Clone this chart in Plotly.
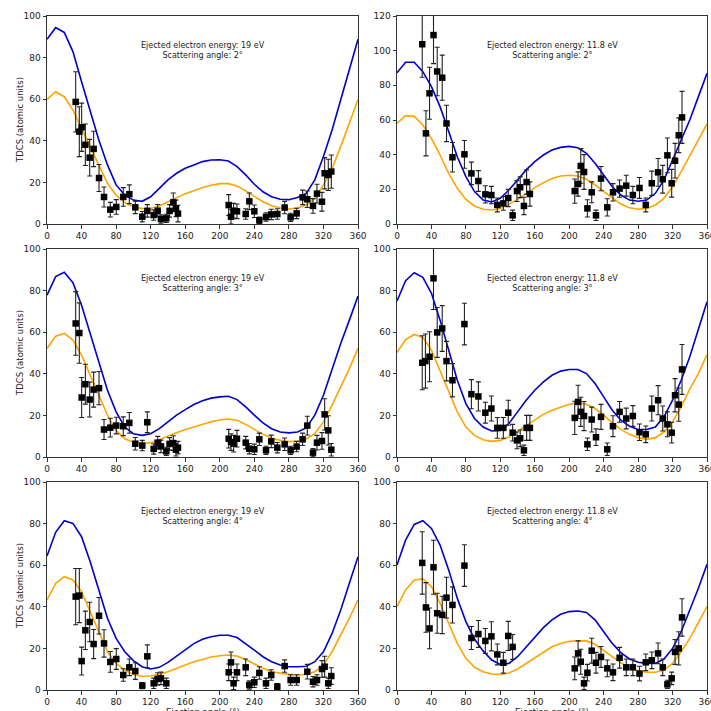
import plotly.graph_objects as go

# ---------------- data ----------------
theory_angles = [0, 10, 20, 30, 40, 50, 60, 70, 80, 90, 100, 110, 120, 130, 140, 150, 160, 170, 180,
                 190, 200, 210, 220, 230, 240, 250, 260, 270, 280, 290, 300, 310, 320, 330, 340, 350, 360]

# Panel 1: 19 eV, 2 deg
p1_x = [33.2, 37.4, 40.1, 44.4, 49.4, 54.0, 60.2, 66.0, 73.3, 80.2, 88.3, 95.3, 102.2, 110.3, 116.1, 123.5,
        128.1, 131.9, 138.1, 141.9, 146.2, 149.3, 151.6, 210.3, 213.0, 216.0, 219.9, 230.0, 234.2, 240.0,
        245.8, 253.5, 259.6, 266.6, 275.1, 282.0, 289.0, 295.9, 301.3, 307.9, 312.5, 318.3, 321.4, 325.6, 329.1]
p1_y = [58.7, 44.4, 46.5, 38.1, 31.9, 36.1, 22.1, 13.0, 6.9, 8.2, 13.0, 14.3, 8.0, 3.5, 6.3, 4.3,
        6.4, 2.4, 2.7, 6.3, 10.4, 7.5, 5.0, 9.1, 3.5, 6.4, 6.1, 4.8, 10.9, 6.1,
        1.8, 3.4, 4.6, 4.8, 7.9, 3.2, 5.1, 12.8, 11.9, 8.7, 14.6, 10.7, 24.4, 23.6, 25.2]
p1_e = [14.5, 12.0, 11.6, 10.0, 8.8, 8.5, 6.5, 4.8, 3.5, 3.5, 4.5, 4.5, 3.0, 2.5, 3.0, 2.5,
        3.0, 2.0, 2.0, 3.0, 4.5, 4.0, 4.0, 5.0, 3.5, 3.5, 3.5, 2.5, 4.0, 3.0,
        1.5, 2.0, 2.5, 2.5, 3.0, 2.0, 2.5, 3.5, 4.0, 3.5, 4.5, 4.5, 7.5, 7.5, 8.0]
p1_blue = [88.8, 94.4, 92.1, 82.9, 68.4, 54.8, 40.4, 28.4, 18.8, 13.9, 11.5, 10.9, 13.1, 17.1, 21.2, 24.4,
           26.8, 28.4, 30.0, 30.8, 30.9, 30.3, 27.6, 23.6, 19.1, 15.5, 13.1, 11.9, 11.7, 12.7, 14.7,
           21.2, 32.4, 45.2, 59.6, 74.8, 88.8]
p1_orange = [59.9, 63.6, 61.2, 54.8, 46.0, 37.2, 27.6, 19.6, 13.9, 10.3, 8.3, 7.4, 7.5, 8.7, 10.7, 12.8,
             14.6, 16.0, 17.5, 18.6, 19.4, 19.4, 18.3, 15.9, 13.1, 10.7, 8.8, 7.7, 7.2, 7.7, 9.1,
             12.3, 18.8, 26.8, 37.2, 48.4, 59.9]

# Panel 2: 11.8 eV, 2 deg
p2_x = [29.3, 33.6, 37.8, 42.4, 46.7, 52.5, 57.5, 64.4, 78.3, 86.4, 94.5, 102.6, 109.6, 116.5, 123.5, 129.2,
        134.3, 139.3, 143.1, 147.4, 150.5, 154.3, 206.4, 210.3, 213.4, 217.2, 221.1, 226.1, 231.1, 236.9,
        244.2, 250.8, 258.5, 266.2, 273.9, 281.6, 288.9, 295.9, 303.2, 308.6, 314.0, 319.0, 322.9, 327.2, 331.0]
p2_y = [103.7, 52.3, 75.4, 109.0, 88.0, 84.4, 58.0, 38.5, 40.2, 29.2, 24.8, 17.1, 16.7, 11.0, 11.9, 15.0,
        5.0, 19.0, 21.2, 10.4, 24.2, 17.3, 19.0, 23.1, 33.5, 30.0, 9.0, 18.3, 5.0, 26.2,
        9.6, 18.3, 20.4, 22.1, 16.7, 20.8, 11.0, 23.5, 29.8, 25.8, 39.6, 23.5, 36.5, 51.2, 61.5]
p2_e = [19.0, 13.0, 15.0, 16.5, 14.0, 13.0, 10.5, 8.5, 8.0, 6.5, 6.0, 5.0, 5.0, 4.0, 4.0, 5.0,
        3.0, 6.0, 6.0, 5.0, 7.0, 7.0, 7.0, 7.0, 10.0, 10.0, 5.0, 6.0, 3.0, 7.0,
        5.0, 5.0, 5.0, 6.0, 5.0, 6.0, 4.0, 7.0, 8.0, 8.0, 10.0, 8.0, 10.0, 10.0, 15.0]
p2_blue = [87.3, 93.3, 93.3, 87.9, 79.2, 67.7, 53.3, 38.8, 27.3, 18.7, 13.8, 12.7, 14.8, 19.6, 25.4, 31.2,
           36.0, 39.8, 42.7, 44.2, 44.8, 44.0, 40.8, 35.0, 28.3, 21.5, 16.7, 13.8, 13.1, 13.8, 17.7,
           25.4, 36.9, 48.5, 60.0, 73.5, 86.9]
p2_orange = [58.1, 62.5, 62.1, 57.1, 49.4, 39.8, 29.2, 20.6, 14.2, 10.4, 8.5, 8.1, 9.0, 11.3, 14.2, 17.7,
             21.0, 23.8, 26.3, 27.7, 28.1, 27.7, 25.8, 22.5, 18.7, 14.8, 11.5, 9.4, 8.5, 9.0, 11.0,
             14.8, 21.5, 30.2, 39.8, 48.5, 57.7]

# Panel 3: 19 eV, 3 deg
p3_x = [33.2, 37.4, 40.1, 44.4, 49.4, 54.0, 60.2, 66.0, 73.3, 80.2, 88.3, 95.3, 102.2, 110.3, 116.1, 123.5,
        128.1, 131.9, 138.1, 141.9, 146.2, 149.3, 151.6, 210.3, 213.0, 216.0, 219.9, 230.0, 234.2, 240.0,
        245.8, 253.5, 259.6, 266.6, 275.1, 282.0, 289.0, 295.9, 301.3, 307.9, 312.5, 318.3, 321.4, 325.6, 329.1]
p3_y = [64.2, 59.6, 28.6, 35.0, 27.6, 32.4, 33.1, 13.2, 14.1, 15.1, 14.8, 16.4, 6.4, 5.5, 16.7, 3.9,
        6.9, 5.1, 2.7, 6.3, 6.7, 3.5, 4.5, 8.8, 7.2, 6.4, 8.8, 6.9, 4.0, 3.7,
        8.5, 3.2, 7.5, 4.5, 6.1, 3.2, 5.0, 8.5, 15.1, 2.1, 6.9, 7.7, 20.5, 12.8, 3.5]
p3_e = [15.3, 14.5, 9.6, 9.6, 8.4, 8.4, 8.0, 4.8, 4.5, 4.0, 4.5, 5.0, 3.0, 2.5, 5.0, 2.5,
        3.0, 3.0, 2.0, 3.0, 3.5, 3.0, 3.0, 4.5, 4.0, 4.0, 4.0, 3.0, 2.5, 2.5,
        3.0, 2.0, 3.0, 2.5, 3.0, 2.0, 2.5, 3.0, 4.5, 2.0, 3.5, 4.0, 7.5, 7.0, 3.0]
p3_blue = [77.8, 86.7, 88.8, 83.8, 73.0, 59.4, 44.9, 32.1, 21.7, 14.4, 11.2, 10.4, 11.2, 13.6, 16.9, 20.1,
           22.8, 25.2, 27.0, 28.3, 28.9, 29.2, 27.6, 24.1, 20.1, 16.4, 13.6, 12.0, 11.6, 12.0, 14.0,
           20.1, 29.7, 42.5, 54.6, 65.8, 77.4]
p3_orange = [52.2, 58.1, 59.4, 56.2, 49.0, 39.3, 28.9, 20.1, 12.8, 8.8, 7.1, 6.4, 6.9, 8.3, 10.1, 11.7,
             13.2, 14.4, 15.7, 16.9, 17.8, 18.3, 17.7, 15.7, 13.3, 10.9, 9.1, 8.0, 7.4, 7.5, 8.7,
             11.2, 16.9, 24.9, 33.7, 42.5, 52.2]

# Panel 4: 11.8 eV, 3 deg
p4_x = [29.3, 33.0, 37.8, 42.4, 46.7, 52.5, 57.5, 64.4, 78.3, 86.4, 94.5, 102.6, 109.6, 116.5, 123.5, 129.2,
        134.3, 139.3, 143.1, 147.4, 150.5, 154.3, 206.4, 210.3, 213.4, 217.2, 221.1, 226.1, 231.1, 236.9,
        244.2, 250.8, 258.5, 266.2, 273.9, 281.6, 288.9, 295.9, 303.2, 308.6, 314.0, 319.0, 322.9, 327.2, 331.0]
p4_y = [45.3, 46.1, 48.2, 85.9, 59.9, 61.8, 46.1, 36.9, 63.9, 30.2, 29.1, 21.3, 23.3, 14.0, 14.0, 21.3,
        11.7, 8.0, 9.0, 3.2, 14.0, 14.0, 18.8, 26.5, 21.7, 19.7, 6.1, 18.0, 9.5, 19.3,
        3.7, 14.8, 21.7, 18.5, 19.7, 11.9, 10.9, 23.3, 27.3, 18.5, 15.7, 11.7, 29.7, 25.2, 42.1]
p4_e = [13.0, 13.0, 12.0, 15.0, 12.0, 11.0, 9.5, 8.0, 10.0, 7.0, 7.0, 5.0, 6.0, 5.0, 5.0, 6.0,
        4.0, 4.0, 4.0, 2.5, 6.0, 6.0, 8.0, 8.0, 7.0, 7.0, 3.0, 6.0, 4.0, 6.0,
        3.0, 5.0, 5.0, 5.0, 5.0, 4.0, 4.0, 6.0, 7.0, 6.0, 6.0, 5.0, 8.0, 8.0, 12.0]
p4_blue = [75.0, 84.8, 88.6, 86.4, 78.7, 65.8, 51.4, 36.9, 25.7, 18.5, 14.4, 12.5, 12.8, 16.1, 21.7, 27.3,
           32.1, 36.1, 39.3, 41.3, 42.1, 42.1, 40.1, 35.3, 28.9, 22.5, 17.7, 14.8, 13.2, 13.2, 14.4,
           19.3, 27.3, 36.9, 48.2, 61.0, 74.6]
p4_orange = [50.2, 56.5, 58.9, 57.5, 51.4, 41.7, 31.3, 21.7, 14.4, 10.4, 8.3, 7.5, 8.0, 9.6, 12.4, 15.2,
             18.0, 20.5, 22.5, 24.1, 25.4, 26.0, 25.4, 23.3, 20.1, 16.4, 13.3, 10.9, 9.3, 8.5, 9.3,
             12.0, 16.9, 24.1, 32.6, 40.1, 49.2]

# Panel 5: 19 eV, 4 deg
p5_x = [33.2, 37.4, 40.1, 44.4, 49.4, 54.0, 60.2, 66.0, 73.3, 80.2, 88.3, 95.3, 102.2, 110.3, 116.1, 123.5,
        128.1, 131.9, 138.1, 210.3, 213.0, 216.0, 219.9, 230.0, 234.2, 240.0, 245.8, 253.5, 259.6, 266.6,
        275.1, 282.0, 289.0, 301.3, 307.9, 312.5, 318.3, 321.4, 325.6, 329.1]
p5_y = [44.9, 45.4, 13.9, 28.7, 32.7, 22.1, 35.7, 22.4, 13.5, 14.9, 7.2, 10.9, 9.1, 2.1, 16.2, 3.2,
        5.3, 5.6, 3.2, 8.5, 13.3, 3.2, 8.5, 10.9, 2.4, 3.7, 8.2, 3.2, 7.2, 1.6,
        11.5, 4.8, 4.8, 8.8, 4.0, 4.8, 10.1, 11.2, 3.2, 6.7]
p5_e = [13.5, 13.0, 6.7, 9.2, 9.5, 7.0, 8.8, 6.6, 5.0, 5.0, 3.0, 4.0, 4.0, 1.5, 5.5, 2.5,
        3.0, 3.0, 2.5, 4.0, 5.0, 3.0, 4.0, 4.0, 2.0, 2.5, 3.0, 2.5, 2.5, 1.5,
        3.0, 2.5, 2.5, 3.5, 2.5, 2.5, 4.0, 5.0, 2.5, 4.0]
p5_blue = [64.4, 75.8, 81.4, 80.1, 73.7, 61.7, 48.1, 34.5, 24.8, 18.4, 14.1, 11.2, 10.1, 10.9, 13.3, 16.3,
           19.6, 22.3, 24.4, 25.6, 26.3, 26.3, 25.2, 22.4, 19.2, 16.0, 13.6, 12.0, 11.2, 11.2, 11.4,
           13.6, 18.4, 27.2, 38.5, 51.3, 64.1]
p5_orange = [43.3, 51.3, 54.5, 52.9, 47.3, 37.7, 27.2, 18.4, 12.8, 9.6, 7.5, 6.6, 6.7, 7.5, 8.8, 10.4,
             12.0, 13.6, 14.7, 15.9, 16.5, 16.8, 16.3, 14.7, 12.5, 10.4, 8.8, 8.0, 7.5, 7.2, 7.5,
             8.8, 12.0, 18.4, 26.4, 34.5, 43.3]

# Panel 6: 11.8 eV, 4 deg
p6_x = [29.3, 33.6, 37.8, 42.4, 46.7, 52.5, 57.5, 64.4, 78.3, 86.4, 94.5, 102.6, 109.6, 116.5, 123.5, 129.2,
        134.3, 206.4, 210.3, 213.4, 217.2, 221.1, 226.1, 231.1, 236.9, 244.2, 250.8, 258.5, 266.2, 273.9,
        281.6, 288.9, 295.9, 303.2, 308.6, 314.0, 319.0, 322.9, 327.2, 331.0]
p6_y = [61.1, 39.7, 29.6, 59.0, 36.9, 36.1, 44.4, 40.9, 59.8, 25.0, 26.9, 23.6, 25.8, 17.1, 13.1, 26.0,
        20.7, 10.4, 17.6, 13.6, 3.2, 8.3, 18.9, 13.1, 15.9, 10.4, 8.5, 15.5, 10.9, 10.9,
        7.9, 13.3, 14.3, 17.6, 10.9, 2.7, 5.6, 18.3, 20.0, 34.9]
p6_e = [15.0, 11.9, 9.8, 13.0, 9.6, 9.0, 9.8, 8.7, 10.0, 5.5, 6.5, 6.0, 7.0, 5.0, 5.0, 7.0,
        6.0, 5.5, 6.0, 6.0, 3.0, 4.0, 6.0, 5.0, 5.0, 4.0, 4.0, 5.0, 4.0, 4.0,
        3.5, 4.0, 4.0, 5.0, 4.0, 2.0, 3.0, 6.0, 8.0, 9.0]
p6_blue = [60.1, 72.1, 79.6, 81.4, 77.7, 69.7, 57.7, 44.1, 32.9, 24.5, 18.8, 14.4, 12.3, 12.8, 16.0, 20.8,
           25.6, 30.0, 33.7, 36.4, 37.7, 38.0, 37.3, 33.7, 28.0, 22.4, 17.9, 14.9, 13.3, 12.8, 12.8,
           14.9, 20.0, 28.0, 38.5, 48.9, 60.4]
p6_orange = [40.1, 48.1, 52.9, 53.4, 49.7, 41.7, 32.1, 22.4, 15.2, 10.9, 8.8, 7.7, 7.5, 8.2, 10.1, 12.8,
             15.7, 18.4, 20.8, 22.4, 23.4, 23.7, 23.6, 22.0, 19.2, 16.0, 13.1, 10.7, 9.1, 8.5, 8.5,
             9.6, 12.8, 18.4, 24.8, 32.1, 40.1]

energies = ["19", "11.8", "19", "11.8", "19", "11.8"]
scatter_angles = ["2", "2", "3", "3", "4", "4"]
y_max = [100, 120, 100, 100, 100, 100]
x_ticks = [0, 40, 80, 120, 160, 200, 240, 280, 320, 360]

panels = [
    (p1_x, p1_y, p1_e, p1_blue, p1_orange),
    (p2_x, p2_y, p2_e, p2_blue, p2_orange),
    (p3_x, p3_y, p3_e, p3_blue, p3_orange),
    (p4_x, p4_y, p4_e, p4_blue, p4_orange),
    (p5_x, p5_y, p5_e, p5_blue, p5_orange),
    (p6_x, p6_y, p6_e, p6_blue, p6_orange),
]

# ---------------- layout geometry ----------------
W, H = 711, 711
ML, MR, MT, MB = 47, 4, 16, 21
PW = W - ML - MR
PH = H - MT - MB
col_px = [(0, 311), (350, 660)]
row_px = [(0, 208), (233, 441), (466, 674)]

def xdom(c):
    a, b = col_px[c]
    return [a / PW, b / PW]

def ydom(r):
    a, b = row_px[r]
    return [1 - b / PH, 1 - a / PH]

FONT = "DejaVu Sans"
BLUE = "#0000CC"
ORANGE = "#FFA500"

fig = go.Figure()
layout_axes = {}
annotations = []

for i, (px, py, pe, pb, po) in enumerate(panels):
    r, c = divmod(i, 2)
    n = i + 1
    xa = "x" if n == 1 else f"x{n}"
    ya = "y" if n == 1 else f"y{n}"
    fig.add_trace(go.Scatter(x=theory_angles, y=pb, mode="lines",
                             line=dict(color=BLUE, width=1.6), xaxis=xa, yaxis=ya,
                             showlegend=False, hoverinfo="skip"))
    fig.add_trace(go.Scatter(x=theory_angles, y=po, mode="lines",
                             line=dict(color=ORANGE, width=1.6), xaxis=xa, yaxis=ya,
                             showlegend=False, hoverinfo="skip"))
    fig.add_trace(go.Scatter(x=px, y=py, mode="markers",
                             marker=dict(symbol="square", size=6.5, color="black"),
                             error_y=dict(type="data", array=pe, visible=True,
                                          color="#222222", thickness=1.1, width=2.5),
                             xaxis=xa, yaxis=ya, showlegend=False, cliponaxis=True))
    axis_common = dict(showline=True, linecolor="#333333", linewidth=1, mirror=True,
                       ticks="outside", ticklen=3.5, tickwidth=1, tickcolor="#333333",
                       showgrid=False, zeroline=False, automargin=False,
                       ticklabeloverflow="allow",
                       tickfont=dict(family=FONT, size=9, color="#222222"))
    layout_axes["xaxis" if n == 1 else f"xaxis{n}"] = dict(
        domain=xdom(c), range=[0, 360], tickvals=x_ticks, anchor=ya, **axis_common)
    layout_axes["yaxis" if n == 1 else f"yaxis{n}"] = dict(
        domain=ydom(r), range=[0, y_max[i]], dtick=20, anchor=xa, **axis_common)
    annotations.append(dict(
        text=f"Ejected electron energy: {energies[i]} eV<br>Scattering angle: {scatter_angles[i]}°",
        xref=f"{xa} domain", yref=f"{ya} domain", x=0.5, y=1, yshift=-34,
        xanchor="center", yanchor="middle", showarrow=False, align="center",
        font=dict(family=FONT, size=8, color="#222222")))
    if c == 0:
        annotations.append(dict(
            text="TDCS (atomic units)", xref="paper", yref=f"{ya} domain",
            x=0, xshift=-27, y=0.5, textangle=-90, xanchor="center", yanchor="middle",
            showarrow=False, font=dict(family=FONT, size=8.5, color="#222222")))
    if r == 2:
        annotations.append(dict(
            text="Ejection angle (°)", xref=f"{xa} domain", yref="paper",
            x=0.5, y=0, yshift=-15, xanchor="center", yanchor="top",
            showarrow=False, font=dict(family=FONT, size=8.5, color="#222222")))

fig.update_layout(
    width=W, height=H,
    margin=dict(l=ML, r=MR, t=MT, b=MB, pad=0, autoexpand=False),
    paper_bgcolor="white", plot_bgcolor="white",
    annotations=annotations,
    **layout_axes,
)

fig.write_html("out.html",
               config={"displayModeBar": False},
               post_script="document.body.style.margin='0';document.body.style.overflow='hidden';")
